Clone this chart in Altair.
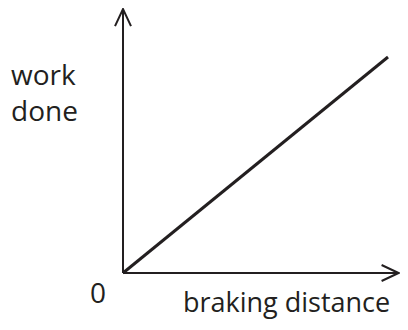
import altair as alt
import pandas as pd

# Work done is proportional to braking distance
distance = [0.0, 1.0]
work = [0.0, 1.0]

# axis extents in data units (arrow tips)
x_axis_end = 1.04
y_axis_end = 1.222

# annotation labels (text, x, y)
lab_y_text = "work\ndone"
lab_y_pos = (-0.4226, 0.870)
lab_zero_text = "0"
lab_zero_pos = (-0.094, -0.102)
lab_x_text = "braking distance"
lab_x_pos = (0.226, -0.181)

INK = "#231f20"
FONT = "Open Sans"
FS = 28

xs = alt.Scale(domain=[-0.434, 1.0453], nice=False, zero=False)
ys = alt.Scale(domain=[-0.2269, 1.2269], nice=False, zero=False)

line_df = pd.DataFrame({"x": distance, "y": work})
axes_df = pd.DataFrame({
    "x": [0.0, x_axis_end, 0.0, 0.0],
    "y": [0.0, 0.0, 0.0, y_axis_end],
    "axis": ["x", "x", "y", "y"],
})
tips_df = pd.DataFrame({
    "x": [x_axis_end, 0.0],
    "y": [0.0, y_axis_end],
    "ang": [90, 0],
})

X = lambda: alt.X("x:Q", scale=xs, axis=None)
Y = lambda: alt.Y("y:Q", scale=ys, axis=None)

axes = alt.Chart(axes_df).mark_line(color=INK, strokeWidth=2).encode(
    x=X(), y=Y(), detail="axis:N"
)
tips = alt.Chart(tips_df).mark_point(
    shape="M-0.47,1L0,0L0.47,1", size=1156, filled=False, color=INK,
    strokeWidth=2, opacity=1
).encode(x=X(), y=Y(), angle=alt.Angle("ang:Q", scale=None))
rel = alt.Chart(line_df).mark_line(color=INK, strokeWidth=3).encode(x=X(), y=Y())

def label(text, pos, size=FS, **kw):
    df = pd.DataFrame({"x": [pos[0]], "y": [pos[1]], "t": [text]})
    return alt.Chart(df).mark_text(font=FONT, fontSize=size, color=INK, **kw).encode(
        x=X(), y=Y(), text="t:N"
    )

t1 = label(lab_y_text, lab_y_pos, align="left", baseline="alphabetic", lineBreak="\n", lineHeight=36)
t2 = label(lab_zero_text, lab_zero_pos, align="center", baseline="middle")
t3 = label(lab_x_text, lab_x_pos, size=27, align="left", baseline="alphabetic")

chart = alt.layer(axes, tips, rel, t1, t2, t3).properties(
    width=392, height=314, autosize=alt.AutoSizeParams(type="none"), padding=0
).configure_view(stroke=None)

chart.save("out.html", embed_options={"renderer": "svg", "actions": False})
